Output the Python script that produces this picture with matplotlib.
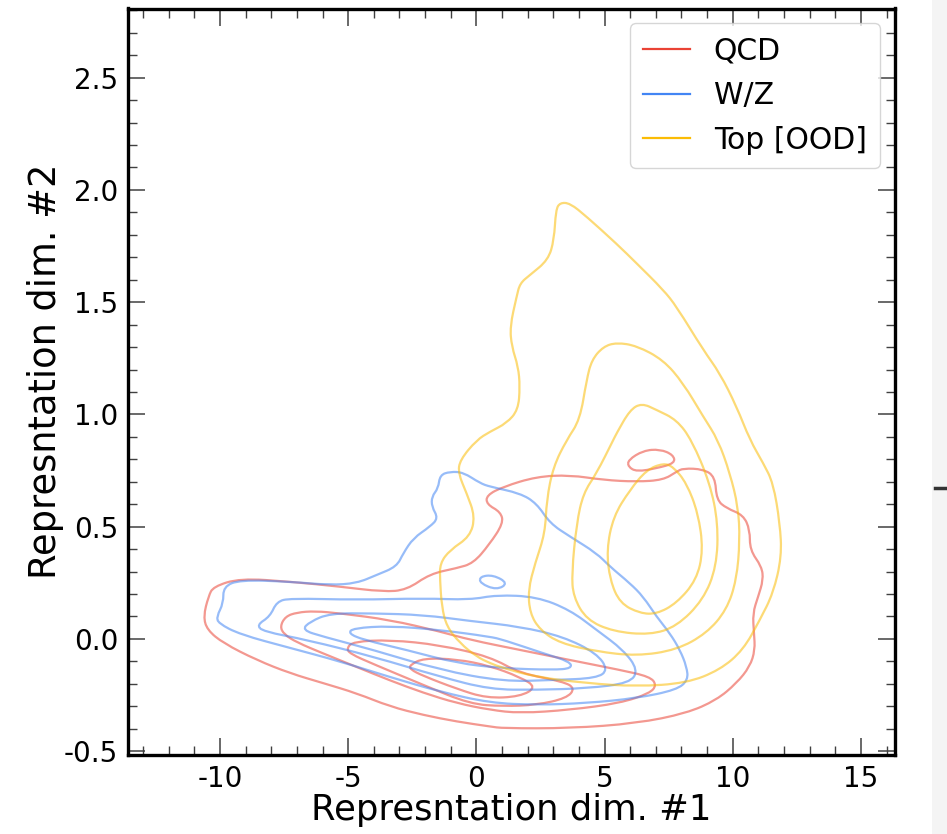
import numpy as np
import matplotlib
matplotlib.use("Agg")
import matplotlib.pyplot as plt
from matplotlib.ticker import MultipleLocator
from matplotlib.lines import Line2D
from matplotlib.patches import Rectangle, PathPatch
from matplotlib.path import Path

plt.rcParams["axes.unicode_minus"] = False

''' Contour levels of the 2D representation density, (dim1, dim2) '''
qcd_l1 = [(-10.65, 0.10), (-10.45, 0.19), (-10.26, 0.233), (-9.22, 0.27), (-7.27, 0.255),
          (-5.32, 0.233), (-3.63, 0.21), (-2.72, 0.218), (-1.81, 0.29), (-0.77, 0.315),
          (-0.12, 0.337), (0.50, 0.42), (1.05, 0.515), (0.95, 0.565), (0.40, 0.60),
          (0.40, 0.64), (1.05, 0.678), (2.35, 0.723), (3.65, 0.730), (4.95, 0.708),
          (6.25, 0.70), (7.29, 0.708), (7.81, 0.745), (8.07, 0.76), (8.85, 0.756),
          (9.31, 0.723), (9.37, 0.619), (9.76, 0.582), (10.41, 0.552), (10.67, 0.486),
          (10.67, 0.396), (11.13, 0.322), (11.19, 0.263), (10.99, 0.188), (10.78, 0.114),
          (10.83, 0.025), (10.87, -0.049), (10.67, -0.123), (10.15, -0.197), (9.37, -0.272),
          (8.20, -0.331), (6.25, -0.376), (3.65, -0.398), (1.05, -0.398), (0.53, -0.39),
          (-0.77, -0.368), (-2.07, -0.339), (-3.37, -0.301), (-4.67, -0.242), (-5.97, -0.197),
          (-7.27, -0.153), (-8.57, -0.094), (-9.87, -0.019), (-10.50, 0.04)]
qcd_island = [(5.92, 0.797), (6.51, 0.839), (7.16, 0.845), (7.68, 0.82), (7.75, 0.783),
              (7.03, 0.76), (6.25, 0.745), (5.92, 0.767)]
qcd_l2 = [(-7.66, 0.055), (-7.45, 0.10), (-7.0, 0.118), (-6.3, 0.124), (-5.32, 0.114),
          (-3.37, 0.085), (-1.42, 0.033), (-0.25, -0.004), (1.70, -0.049), (3.65, -0.094),
          (5.60, -0.138), (6.77, -0.168), (7.03, -0.205), (6.77, -0.242), (5.60, -0.286),
          (3.65, -0.316), (1.70, -0.331), (0.53, -0.316), (-0.77, -0.286), (-2.07, -0.240),
          (-3.37, -0.185), (-4.67, -0.125), (-5.97, -0.065), (-7.01, -0.015), (-7.5, 0.02)]
qcd_l3 = [(-5.06, -0.041), (-4.80, -0.012), (-3.37, -0.004), (-1.42, -0.027), (0.53, -0.079),
          (1.70, -0.153), (3.39, -0.19), (3.85, -0.22), (3.52, -0.264), (2.35, -0.294),
          (1.05, -0.30), (-0.25, -0.29), (-2.07, -0.205), (-4.02, -0.112), (-4.93, -0.066)]
qcd_l4 = [(-2.59, -0.116), (-2.07, -0.086), (-0.77, -0.09), (0.53, -0.12), (1.70, -0.17),
          (2.35, -0.215), (1.70, -0.257), (0.40, -0.264), (-0.77, -0.222), (-2.07, -0.165),
          (-2.59, -0.135)]

wz_l1 = [(-10.13, 0.10), (-9.87, 0.159), (-9.87, 0.233), (-9.22, 0.263), (-7.27, 0.255),
         (-5.71, 0.24), (-4.67, 0.248), (-3.89, 0.285), (-3.11, 0.322), (-2.85, 0.382),
         (-2.46, 0.449), (-1.81, 0.50), (-1.49, 0.538), (-1.74, 0.589), (-1.74, 0.634),
         (-1.49, 0.671), (-1.42, 0.73), (-1.03, 0.745), (-0.51, 0.742), (0.14, 0.694),
         (0.53, 0.678), (1.70, 0.649), (2.35, 0.604), (2.87, 0.515), (3.65, 0.456),
         (4.69, 0.382), (5.21, 0.322), (5.99, 0.248), (6.51, 0.188), (7.03, 0.099),
         (7.55, 0.025), (7.94, -0.049), (8.20, -0.123), (8.26, -0.183), (7.81, -0.227),
         (6.25, -0.264), (4.30, -0.286), (2.35, -0.294), (0.53, -0.285), (-1.42, -0.235),
         (-3.37, -0.17), (-5.32, -0.10), (-7.27, -0.04), (-9.22, 0.02), (-10.07, 0.07)]
wz_island = [(0.14, 0.278), (0.66, 0.285), (1.24, 0.248), (0.79, 0.218), (0.14, 0.248)]
wz_l2 = [(-8.57, 0.062), (-8.05, 0.10), (-7.79, 0.166), (-7.27, 0.181), (-4.67, 0.174),
         (-2.07, 0.181), (-0.25, 0.174), (0.79, 0.196), (2.35, 0.188), (3.65, 0.129),
         (4.69, 0.04), (5.73, -0.049), (6.31, -0.138), (5.99, -0.197), (4.30, -0.22),
         (2.35, -0.227), (0.53, -0.225), (-1.42, -0.168), (-4.02, -0.079), (-6.62, -0.004),
         (-8.31, 0.033)]
wz_l3 = [(-6.81, 0.04), (-6.49, 0.077), (-5.71, 0.114), (-4.02, 0.114), (-2.07, 0.107),
         (-0.25, 0.08), (1.70, 0.055), (3.39, 0.01), (4.69, -0.064), (5.14, -0.138),
         (4.69, -0.175), (3.0, -0.183), (1.05, -0.19), (-1.42, -0.138), (-4.02, -0.049),
         (-5.97, 0.01)]
wz_l4 = [(-5.0, 0.025), (-4.80, 0.048), (-3.37, 0.058), (-1.42, 0.04), (0.53, 0.01),
         (1.05, -0.004), (2.61, -0.064), (3.65, -0.101), (3.72, -0.131), (3.0, -0.138),
         (1.05, -0.131), (-0.77, -0.108), (-2.72, -0.049), (-4.41, -0.004)]

top_l1 = [(3.26, 1.943), (3.10, 1.911), (3.03, 1.777), (2.80, 1.688), (2.09, 1.621),
          (1.70, 1.584), (1.57, 1.525), (1.31, 1.391), (1.38, 1.302), (1.63, 1.213),
          (1.70, 1.124), (1.63, 1.02), (1.18, 0.961), (0.53, 0.923), (0.01, 0.886),
          (-0.64, 0.797), (-0.71, 0.738), (-0.38, 0.649), (-0.05, 0.545), (-0.25, 0.456),
          (-1.03, 0.396), (-1.42, 0.337), (-1.42, 0.263), (-1.35, 0.144), (-1.16, 0.055),
          (-0.64, -0.019), (0.01, -0.079), (0.53, -0.108), (1.05, -0.13), (2.35, -0.17),
          (4.30, -0.197), (6.25, -0.212), (8.20, -0.197), (9.50, -0.138), (10.41, -0.049),
          (11.06, 0.085), (11.58, 0.204), (11.91, 0.367), (11.84, 0.515), (11.58, 0.694),
          (11.19, 0.783), (10.67, 0.886), (10.15, 1.035), (9.50, 1.183), (8.85, 1.287),
          (7.81, 1.48), (7.29, 1.555), (6.25, 1.673), (5.47, 1.76), (4.30, 1.881),
          (3.65, 1.941)]
top_l2 = [(3.52, 0.886), (3.00, 0.767), (2.74, 0.619), (2.68, 0.471), (2.29, 0.337),
          (2.02, 0.218), (2.09, 0.114), (2.48, 0.04), (3.26, -0.019), (4.69, -0.056),
          (6.25, -0.076), (7.81, -0.049), (8.98, 0.025), (9.76, 0.129), (10.15, 0.263),
          (10.28, 0.441), (10.21, 0.589), (9.89, 0.738), (9.43, 0.886), (8.85, 0.99),
          (8.07, 1.139), (7.29, 1.243), (6.25, 1.306), (5.47, 1.32), (4.95, 1.302),
          (4.50, 1.243), (4.30, 1.154), (4.04, 0.976)]
top_l3 = [(5.34, 0.886), (4.69, 0.738), (4.17, 0.649), (3.91, 0.515), (3.72, 0.293),
          (3.78, 0.188), (4.30, 0.085), (5.34, 0.033), (6.77, 0.018), (7.81, 0.055),
          (8.85, 0.174), (9.37, 0.322), (9.43, 0.515), (9.11, 0.694), (8.40, 0.886),
          (7.81, 0.976), (7.03, 1.02), (6.45, 1.05), (5.99, 1.02), (5.47, 0.916)]
top_l4 = [(7.29, 0.783), (6.64, 0.753), (5.99, 0.664), (5.34, 0.545), (5.08, 0.396),
          (5.21, 0.263), (5.60, 0.159), (6.38, 0.114), (7.03, 0.111), (7.81, 0.159),
          (8.59, 0.263), (8.85, 0.396), (8.65, 0.56), (8.20, 0.694), (7.68, 0.767)]

labels = ["QCD", "W/Z", "Top [OOD]"]
colors = ["#EA4335", "#4285F4", "#FBBC05"]
contours = [
    [qcd_l1, qcd_island, qcd_l2, qcd_l3, qcd_l4],
    [wz_l1, wz_island, wz_l2, wz_l3, wz_l4],
    [top_l1, top_l2, top_l3, top_l4],
]


def closed_curve(points):
    # quadratic bezier through edge midpoints, vertices act as control points
    p = np.asarray(points, dtype=float)
    nxt = np.roll(p, -1, axis=0)
    mid = (p + nxt) / 2
    verts = [mid[-1]]
    codes = [Path.MOVETO]
    for i in range(len(p)):
        verts += [p[i], mid[i]]
        codes += [Path.CURVE3, Path.CURVE3]
    return Path(verts, codes)


''' Plot '''
fig = plt.figure(figsize=(9.47, 8.34), dpi=100)
ax = fig.add_axes([128 / 947, 79 / 834, 767 / 947, 746.5 / 834])

for levels, col in zip(contours, colors):
    for c in levels:
        ax.add_patch(PathPatch(closed_curve(c), facecolor="none", edgecolor=col,
                               alpha=0.55, lw=1.6, joinstyle="round"))

ax.set_xlim(-13.59, 16.33)
ax.set_ylim(-0.517, 2.808)
ax.xaxis.set_major_locator(MultipleLocator(5))
ax.xaxis.set_minor_locator(MultipleLocator(1))
ax.yaxis.set_major_locator(MultipleLocator(0.5))
ax.yaxis.set_minor_locator(MultipleLocator(0.1))

ax.tick_params(which="both", direction="in", top=True, right=True,
               labelsize=20, pad=7, color="0.25")
ax.tick_params(which="major", length=12, width=1.1)
ax.tick_params(which="minor", length=6.5, width=1.0)
for s in ax.spines.values():
    s.set_linewidth(2.4)

ax.set_xlabel("Represntation dim. #1", fontsize=25.5, labelpad=0)
ax.set_ylabel("Represntation dim. #2", fontsize=26.5)
ax.yaxis.set_label_coords(-0.083, 0.514)

handles = [Line2D([], [], color=c, lw=1.6) for c in colors]
ax.legend(handles, labels, loc="upper right", fontsize=21.5, handlelength=1.55,
          labelspacing=0.52, borderpad=0.45)

# edge of the neighbouring panel
fig.patches.append(Rectangle((932 / 947, 0), 15 / 947, 1, transform=fig.transFigure,
                             facecolor="#f4f4f4", edgecolor="none", zorder=-1))
fig.add_artist(Line2D([935 / 947, 1], [346 / 834, 346 / 834], transform=fig.transFigure,
                      color="0.2", lw=2.5))

fig.savefig("out.png", dpi=100)
